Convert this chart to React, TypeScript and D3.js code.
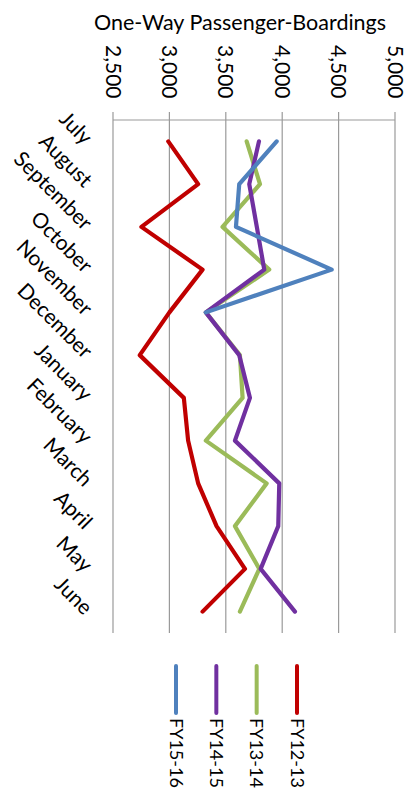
import React from "react";
import * as d3 from "d3";

const months = ["July", "August", "September", "October", "November", "December", "January", "February", "March", "April", "May", "June"];
const ticks = [2500, 3000, 3500, 4000, 4500, 5000];
const fy1213 = [2990, 3255, 2752, 3294, 3000, 2737, 3128, 3166, 3255, 3418, 3670, 3294];
const fy1314 = [3685, 3803, 3471, 3885, 3323, 3625, 3649, 3323, 3862, 3581, 3797, 3625];
const fy1415 = [3794, 3708, 3775, 3841, 3323, 3619, 3714, 3581, 3974, 3965, 3809, 4113];
const fy1516 = [3951, 3619, 3590, 4439, 3323];
const seriesNames = ["FY12-13", "FY13-14", "FY14-15", "FY15-16"];
const seriesColors = ["#C00000", "#9BBB59", "#7030A0", "#4F81BD"];
const seriesData = [fy1213, fy1314, fy1415, fy1516];

const FONT = "Lato, 'Open Sans', sans-serif";

export default function App() {
  const x = d3.scaleLinear().domain([2500, 5000]).range([113, 395]);
  const y = d3.scaleBand<string>().domain(months).range([120, 633]);
  const bw = y.bandwidth();
  const yc = (i: number) => (y(months[i]) as number) + bw / 2;
  const line = d3
    .line<number>()
    .x((v) => x(v))
    .y((_, i) => yc(i));
  const legendOrder = [3, 2, 1, 0];
  const legendX = d3.scalePoint<number>().domain(legendOrder).range([176, 297]);

  return (
    <svg
      width={409}
      height={797}
      style={{ position: "absolute", left: 0, top: 0, background: "#fff" }}
      fontFamily={FONT}
    >
      <text x={240} y={30} textAnchor="middle" fontSize={21.5} fill="#000">
        One-Way Passenger-Boardings
      </text>
      {ticks.map((t) => (
        <g key={t}>
          <line x1={x(t)} x2={x(t)} y1={112} y2={633} stroke="#9a9a9a" strokeWidth={1.2} />
          <text
            transform={`translate(${x(t)},45) rotate(90)`}
            textAnchor="start"
            dy="0.35em"
            fontSize={21}
            fill="#000"
          >
            {d3.format(",")(t)}
          </text>
        </g>
      ))}
      <line x1={x(2500)} x2={x(5000)} y1={120} y2={120} stroke="#9a9a9a" strokeWidth={1.2} />
      {months.map((m, i) => (
        <text
          key={m}
          transform={`translate(88,${yc(i)}) rotate(45)`}
          textAnchor="end"
          dy="0.3em"
          fontSize={21}
          fill="#000"
        >
          {m}
        </text>
      ))}
      {seriesData.map((s, k) => (
        <path
          key={k}
          d={line(s) as string}
          fill="none"
          stroke={seriesColors[k]}
          strokeWidth={4.2}
          strokeLinejoin="round"
          strokeLinecap="round"
        />
      ))}
      {legendOrder.map((k) => (
        <g key={k}>
          <line
            x1={legendX(k)}
            x2={legendX(k)}
            y1={666}
            y2={713}
            stroke={seriesColors[k]}
            strokeWidth={4}
            strokeLinecap="round"
          />
          <text
            transform={`translate(${legendX(k)},718) rotate(90)`}
            textAnchor="start"
            dy="0.35em"
            fontSize={18}
            fill="#000"
          >
            {seriesNames[k]}
          </text>
        </g>
      ))}
    </svg>
  );
}
